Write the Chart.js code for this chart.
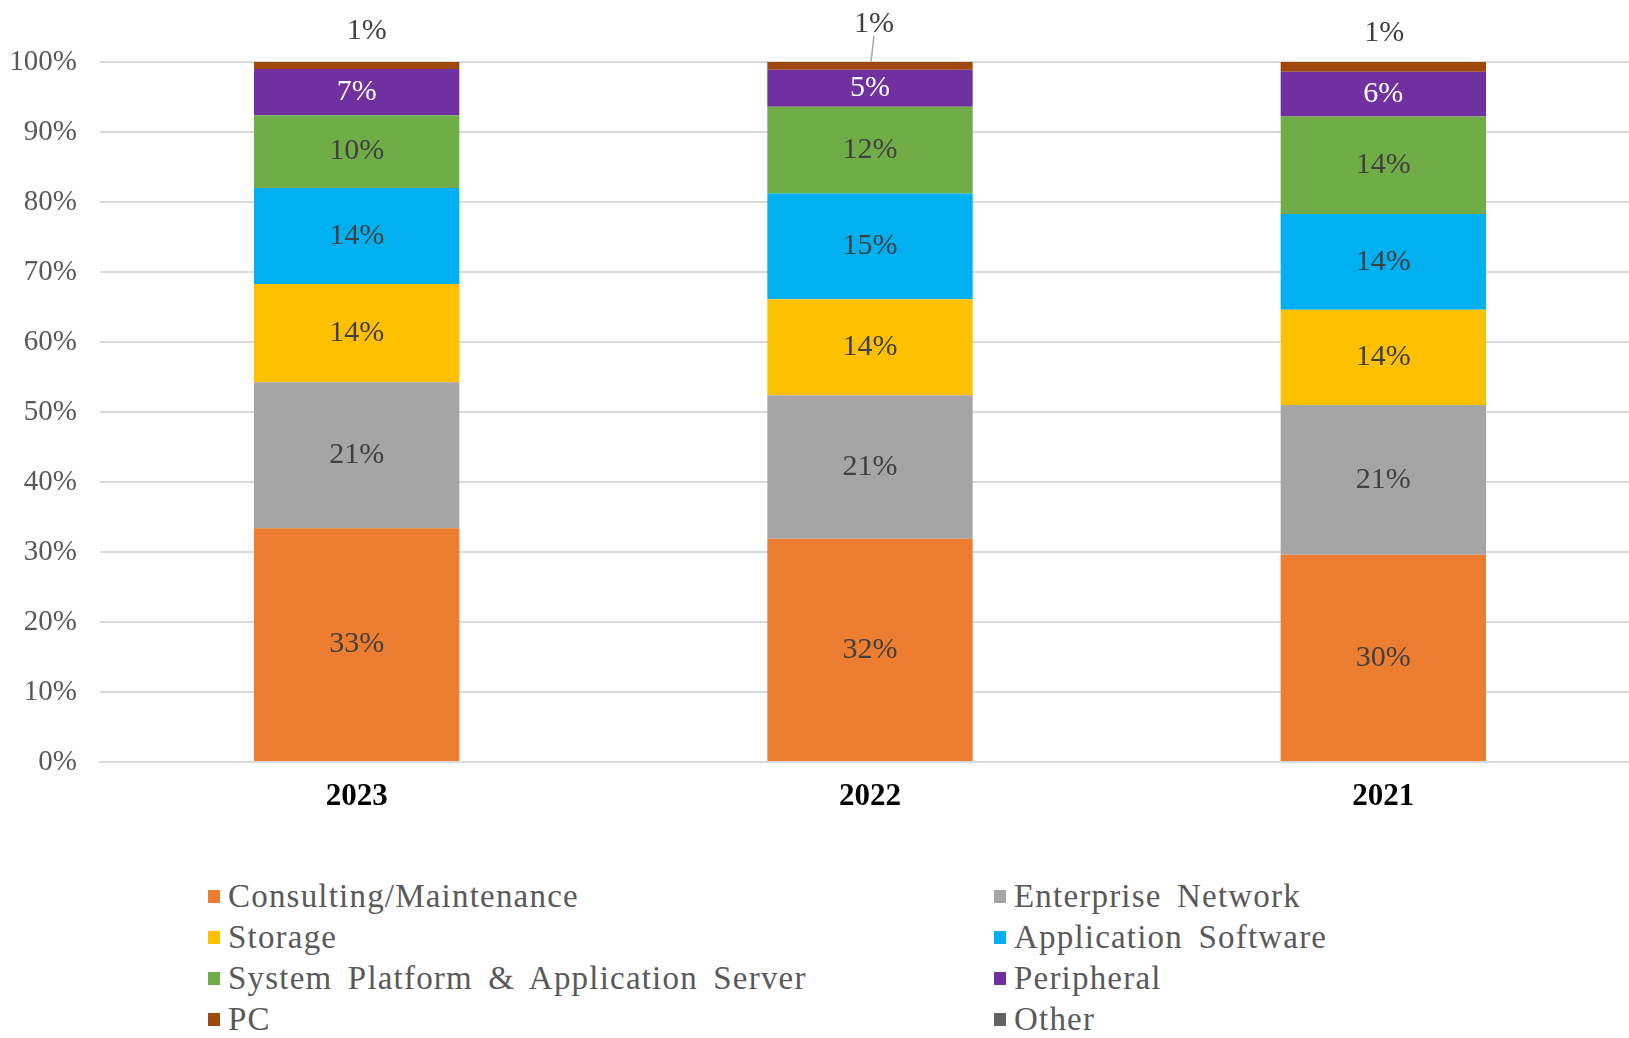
<!DOCTYPE html>
<html lang="en">
<head>
<meta charset="UTF-8" />
<title>Revenue Mix by Segment</title>
<script src="https://cdn.jsdelivr.net/npm/chart.js"></script>
<style>
    body {
        margin: 0;
        background: #fff;
        overflow: hidden;
        font-family: 'Liberation Serif', serif;
    }
    .chart-box {
        position: absolute;
        left: 0;
        top: 0;
        width: 1660px;
        height: 822px;
    }
    #legend {
        position: absolute;
        left: 208px;
        top: 876px;
        display: grid;
        grid-template-columns: 786px 400px;
        row-gap: 0;
    }
    .legend-item {
        display: flex;
        align-items: center;
        height: 41px;
        color: #595959;
        font-size: 33px;
        letter-spacing: 1.2px;
        word-spacing: 6px;
        white-space: nowrap;
    }
    .legend-item .swatch {
        width: 12px;
        height: 13px;
        margin-right: 8px;
        flex: none;
    }
</style>
</head>
<body>

<div class="chart-box">
    <canvas id="mixChart"></canvas>
</div>
<div id="legend"></div>

<script>
    // categories (years, as ordered in the chart)
    const years = ['2023', '2022', '2021'];

    // share of revenue in %, per segment, one value per year
    const consulting  = [33.4, 31.9, 29.6];
    const enterprise  = [20.85, 20.5, 21.4];
    const storage     = [14.05, 13.7, 13.6];
    const appSoftware = [13.7, 15.1, 13.7];
    const sysPlatform = [10.4, 12.4, 13.9];
    const peripheral  = [6.6, 5.3, 6.4];
    const pc          = [1.0, 1.1, 1.4];
    const other       = [0, 0, 0];

    const yTicks = [0, 10, 20, 30, 40, 50, 60, 70, 80, 90, 100];

    const seriesNames = [
        'Consulting/Maintenance', 'Enterprise Network', 'Storage', 'Application Software',
        'System Platform & Application Server', 'Peripheral', 'PC', 'Other'
    ];
    const seriesData = [consulting, enterprise, storage, appSoftware, sysPlatform, peripheral, pc, other];
    const seriesColors = ['#ED7D31', '#A5A5A5', '#FFC000', '#00B0F0', '#70AD47', '#7030A0', '#9E480E', '#636363'];

    // where the small "PC" labels sit, relative to the top of each bar (style only)
    const pcLabelShift = [[10, -31], [4, -38], [1, -29]];
    const pcLeader = [false, true, false];

    const datasets = seriesNames.map((name, i) => ({
        label: name,
        data: seriesData[i],
        backgroundColor: seriesColors[i],
        borderWidth: 0,
        barPercentage: 0.4,
        categoryPercentage: 1.0
    }));

    // draws the percentage labels on each segment
    const segmentLabels = {
        id: 'segmentLabels',
        afterDatasetsDraw(chart) {
            const ctx = chart.ctx;
            ctx.save();
            ctx.textAlign = 'center';
            ctx.textBaseline = 'middle';
            ctx.font = "30px 'Liberation Serif'";
            chart.data.datasets.forEach((ds, di) => {
                const meta = chart.getDatasetMeta(di);
                meta.data.forEach((bar, bi) => {
                    const v = ds.data[bi];
                    if (!v) return;
                    const txt = Math.round(v) + '%';
                    if (di === 6) {
                        const x = bar.x + pcLabelShift[bi][0];
                        const y = bar.y + pcLabelShift[bi][1];
                        ctx.fillStyle = '#404040';
                        ctx.fillText(txt, x, y);
                        if (pcLeader[bi]) {
                            ctx.strokeStyle = '#A6A6A6';
                            ctx.lineWidth = 1.5;
                            ctx.beginPath();
                            ctx.moveTo(bar.x + 4, y + 12);
                            ctx.lineTo(bar.x + 1, bar.y);
                            ctx.stroke();
                        }
                        return;
                    }
                    ctx.fillStyle = di === 5 ? '#FFFFFF' : '#404040';
                    ctx.fillText(txt, bar.x, (bar.y + bar.base) / 2);
                });
            });
            ctx.restore();
        }
    };

    const ctxMix = document.getElementById('mixChart').getContext('2d');
    new Chart(ctxMix, {
        type: 'bar',
        data: { labels: years, datasets: datasets },
        options: {
            responsive: true,
            maintainAspectRatio: false,
            animation: false,
            layout: { padding: { top: 62, right: 20, left: 0, bottom: 0 } },
            plugins: {
                legend: { display: false },
                tooltip: { enabled: false }
            },
            scales: {
                x: {
                    stacked: true,
                    grid: { display: false, drawTicks: false },
                    border: { display: true, color: '#D9D9D9', width: 2 },
                    ticks: {
                        color: '#000',
                        padding: 16,
                        font: { family: 'Liberation Serif', size: 31, weight: 'bold' }
                    },
                    afterFit: scale => { scale.height = 60; }
                },
                y: {
                    stacked: true,
                    min: 0,
                    max: 100,
                    afterBuildTicks: scale => { scale.ticks = yTicks.map(v => ({ value: v })); },
                    grid: { color: '#D9D9D9', lineWidth: 2, drawTicks: false },
                    border: { display: false },
                    ticks: {
                        color: '#595959',
                        padding: 23,
                        font: { family: 'Liberation Serif', size: 29 },
                        callback: v => v + '%'
                    },
                    afterFit: scale => { scale.width = 100; }
                }
            }
        },
        plugins: [segmentLabels]
    });

    // legend: two columns, read row by row like the original
    const legendBox = document.getElementById('legend');
    seriesNames.forEach((name, i) => {
        const item = document.createElement('div');
        item.className = 'legend-item';
        item.innerHTML = `<span class="swatch" style="background:${seriesColors[i]}"></span><span></span>`;
        item.lastChild.textContent = name;
        legendBox.appendChild(item);
    });
</script>

</body>
</html>
